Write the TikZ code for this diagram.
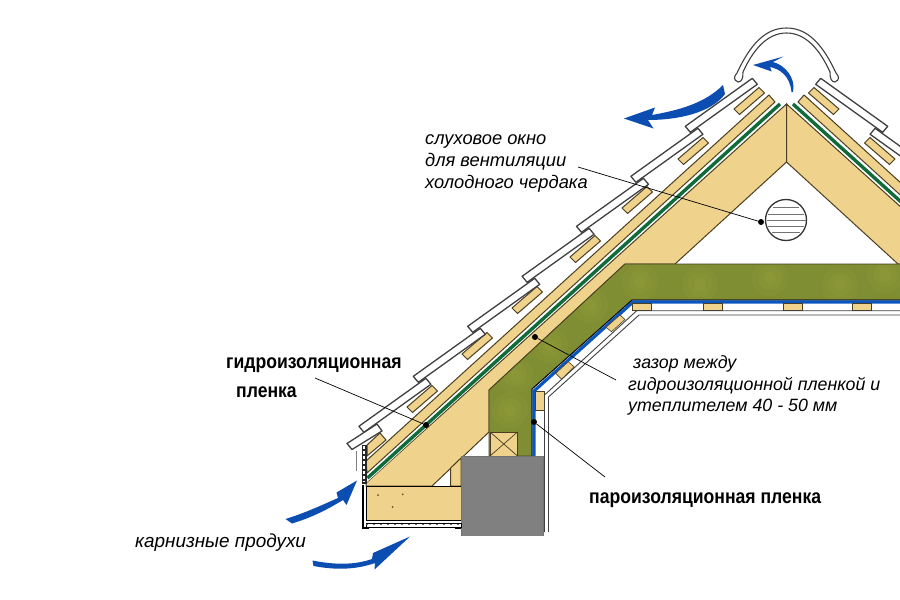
\documentclass[tikz,border=0pt]{standalone}
\usepackage{fontspec}
\setmainfont{Liberation Sans}
\newfontfamily\narrowfont[FakeStretch=0.88]{Liberation Sans}
\usetikzlibrary{positioning}
\definecolor{WOOD_COLOR}{HTML}{EFD28C}
\definecolor{WOOD_EDGE}{HTML}{4A3F22}
\definecolor{WOOL_COLOR}{HTML}{7F8E33}
\definecolor{FILM_COLOR}{HTML}{0F6B38}
\definecolor{VAPOR_COLOR}{HTML}{0A55BE}
\definecolor{ARROW_COLOR}{HTML}{0B4DB0}
\definecolor{BLOCK_COLOR}{HTML}{808080}
\tikzstyle{wood}=[fill=WOOD_COLOR, draw=WOOD_EDGE, line width=1pt]
\tikzstyle{batten}=[wood]
\tikzstyle{tile}=[fill=white, draw=black!75, line width=1.3pt, line join=round]
\tikzstyle{board}=[draw=black!75, line width=0.9pt]
\tikzstyle{flow}=[fill=ARROW_COLOR, draw=none]
\tikzstyle{leader}=[draw=black, line width=0.7pt]
\tikzstyle{spot}=[circle, fill=black, minimum size=6pt, inner sep=0pt]
\tikzstyle{note}=[inner sep=0pt, text height=12.5pt, text depth=3.5pt, anchor=west, font=\fontsize{18}{20}\selectfont\itshape]
\tikzstyle{head}=[inner sep=0pt, text height=12.5pt, text depth=3.5pt, anchor=west, font=\narrowfont\fontsize{20}{22}\selectfont\bfseries]
% one slope of the roof, drawn for the left side
\newcommand{\roofside}{
      \draw[wood] (786.5,104) -- (786.5,162) -- (675,264) -- (625,264) -- (489,390) -- (489,432) -- (432,486) -- (366,486) -- (366,483) -- cycle;
      \fill[white] (775,103) -- (784,102) -- (367,482) -- (367,473) -- cycle;
      \draw[wood] (769,95) -- (775,102) -- (367,473) -- (366,461) -- cycle;
      \draw[draw=FILM_COLOR, line width=3.4pt] (780,104) -- (367.5,478);
      \foreach \bx/\by in {734/109,678/159,622/208,570/257,512/308,462/354,407/407}
            \draw[batten] (\bx,\by) -- ++(25,-21.5) -- ++(5.5,5.5) -- ++(-25,21.5) -- cycle;
      \draw[batten] (367,445) -- (380,433) -- (386,440) -- (367,456) -- cycle;
      \foreach \i in {0,...,6}
            \draw[tile] ({752.3-54.4*\i},{78.3+50*\i}) -- ++(5,6) -- ++(-67,48) -- ++(-5,-6) -- cycle;
      \draw[tile] (377,424) -- (382,431) -- (352,449.5) -- (347,443.5) -- cycle;
}

\begin{document}
\begin{tikzpicture}[x=1pt, y=-1pt]
      \useasboundingbox (0,0) rectangle (900,600);
      \clip (0,0) rectangle (900,600);

      %%%%%%%%%%%%%%%%%%%%%%%%%%%%%%%%%%%%%%%%%%%%%%%%%
      % ROOF
      %%%%%%%%%%%%%%%%%%%%%%%%%%%%%%%%%%%%%%%%%%%%%%%%%
      \roofside
      \begin{scope}[xscale=-1, xshift=-1573pt]
            \roofside
      \end{scope}

      % ridge cap
      \draw[tile, line width=1.1pt] (738,82) .. controls (733,80) and (734,76) .. (737,73) .. controls (750,45) and (765,28) .. (786.5,28) .. controls (808,28) and (823,45) .. (836,73) .. controls (839,76) and (840,80) .. (835,82) .. controls (831,82) and (830,78) .. (830,72) .. controls (820,50) and (806,33) .. (786.5,33) .. controls (767,33) and (753,50) .. (743,72) .. controls (743,78) and (742,82) .. (738,82) -- cycle;

      % vent
      \draw[draw=black!80, line width=1.3pt, fill=white] (786,220) circle (20.5);
      \foreach \ly/\lw in {207/13,214/18,220/19.5,226/18,232/14}
            \draw[draw=black!55, line width=1pt] (786-\lw,\ly) -- (786+\lw,\ly);

      %%%%%%%%%%%%%%%%%%%%%%%%%%%%%%%%%%%%%%%%%%%%%%%%%
      % INSULATION
      %%%%%%%%%%%%%%%%%%%%%%%%%%%%%%%%%%%%%%%%%%%%%%%%%
      \draw[fill=WOOL_COLOR, draw=WOOD_EDGE, line width=0.8pt] (625,264) -- (905,264) -- (905,300) -- (632,300) -- (532,389) -- (532,456) -- (489,456) -- (489,390) -- cycle;
      \begin{scope}
            \clip (625,265) -- (900,265) -- (900,299) -- (632,299) -- (531,389) -- (531,455) -- (490,455) -- (490,390) -- cycle;
            \foreach \wx/\wy in {510/410,515/375,550/345,590/305,640/282,700/285,770/278,840/285,885/275}
                  \foreach \wr in {18,12,6}
                        \fill[yellow!65!white, opacity=0.035] (\wx,\wy) circle (\wr);
      \end{scope}

      % vapour film
      \draw[draw=black, line width=0.8pt] (900,300) -- (632,300) -- (532,389) -- (532,456);
      \draw[draw=VAPOR_COLOR, line width=3.2pt, line join=miter] (900,302) -- (633,302) -- (534,391) -- (534,456);

      %%%%%%%%%%%%%%%%%%%%%%%%%%%%%%%%%%%%%%%%%%%%%%%%%
      % CEILING BOARDS
      %%%%%%%%%%%%%%%%%%%%%%%%%%%%%%%%%%%%%%%%%%%%%%%%%
      \foreach \bx in {632,703,783,852}
            \draw[batten, line width=0.6pt] (\bx,303.5) rectangle ++(19.5,7);
      \draw[batten, line width=0.6pt] (606,327.3) -- (620,315) -- (625,319.5) -- (611.5,331.7) -- cycle;
      \draw[batten, line width=0.6pt] (555.7,373.3) -- (568.3,361.7) -- (574,366.7) -- (561.7,379.3) -- cycle;
      \draw[batten, line width=0.6pt] (535.7,391) rectangle (544,410.5);
      \draw[board] (900,310.7) -- (636.7,310.7) -- (544.5,395) -- (544.5,532);
      \draw[board] (900,315) -- (639,315) -- (548.5,397) -- (548.5,532);

      %%%%%%%%%%%%%%%%%%%%%%%%%%%%%%%%%%%%%%%%%%%%%%%%%
      % EAVE AND WALL
      %%%%%%%%%%%%%%%%%%%%%%%%%%%%%%%%%%%%%%%%%%%%%%%%%
      \draw[wood] (450.7,468) -- (461,458) -- (461,486) -- (450.7,486) -- cycle;
      \draw[wood] (490,432) rectangle (517.5,456);
      \draw[draw=WOOD_EDGE, line width=0.7pt] (490,432) -- (517.5,456) (490,456) -- (517.5,432);
      \draw[fill=WOOD_COLOR, draw=black, line width=1pt] (366,486.7) rectangle (461,520);
      \fill[BLOCK_COLOR] (461,456) rectangle (543,535.5);
      \draw[draw=black!55, line width=0.6pt] (461,535.5) -- (461,456) -- (543,456) -- (543,535.5);
      \foreach \px/\py in {378/495,402.7/494.3,392.7/507}
            \fill[WOOD_EDGE!80!orange] (\px,\py) circle (1);
      \draw[fill=white, draw=black, line width=0.8pt] (366,523) rectangle (461,527);
      \draw[draw=black!60, line width=1pt, dash pattern=on 2pt off 5pt] (366,524) -- (461,524);
      \draw[draw=black, line width=1.6pt] (362.7,485) -- (362.7,528) -- (369,528);
      \fill[black] (455,526.5) rectangle (461,529);
      \draw[fill=black!85, draw=black!85] (362.5,445) rectangle (366,483);
      \draw[draw=white, line width=2pt, dash pattern=on 3pt off 2pt] (364.2,446) -- (364.2,482);
      \draw[draw=black!50, line width=1pt] (356,451) -- (356,471);

      %%%%%%%%%%%%%%%%%%%%%%%%%%%%%%%%%%%%%%%%%%%%%%%%%
      % AIR FLOW
      %%%%%%%%%%%%%%%%%%%%%%%%%%%%%%%%%%%%%%%%%%%%%%%%%
      \fill[flow] (723,85) .. controls (705,103) and (680,110) .. (652,115) -- (655,107.5) -- (624,118.5) -- (653.5,128.5) -- (648,120) .. controls (680,120) and (712,112) .. (725,94) -- cycle;
      \fill[flow] (793,92) .. controls (796,78) and (785,65) .. (773,62) -- (783.5,56.5) -- (753,65) -- (771.7,71.5) -- (770,67) .. controls (780,69) and (790,76) .. (791.5,92) -- cycle;
      \fill[flow] (285.5,519) .. controls (305,513) and (322,505) .. (338,498) -- (336.5,492.5) -- (357,480.5) -- (346.5,505) -- (343,500) .. controls (325,511) and (310,518) .. (292,523.5) -- cycle;
      \fill[flow] (312.5,560.5) .. controls (335,565) and (355,565) .. (372,559) -- (373,553) -- (410,536.5) -- (374.5,569.5) -- (375,563) .. controls (355,570) and (335,570) .. (313.5,566) -- cycle;

      %%%%%%%%%%%%%%%%%%%%%%%%%%%%%%%%%%%%%%%%%%%%%%%%%
      % LABELS
      %%%%%%%%%%%%%%%%%%%%%%%%%%%%%%%%%%%%%%%%%%%%%%%%%
      \node[note, font=\fontsize{18.3}{20}\selectfont\itshape] (window1) at (425,139.5) {слуховое окно};
      \node[note, font=\fontsize{18.3}{20}\selectfont\itshape, below=6pt of window1.south west, anchor=north west] (window2) {для вентиляции};
      \node[note, font=\fontsize{18.3}{20}\selectfont\itshape, below=6pt of window2.south west, anchor=north west] (window3) {холодного чердака};

      \node[head] (film1) at (226,363.5) {гидроизоляционная};
      \node[head, below right=13pt and 10pt of film1.south west, anchor=north west] (film2) {пленка};

      \node[note, font=\fontsize{17.8}{20}\selectfont\itshape] (gap1) at (633,363.5) {зазор между};
      \node[note, font=\fontsize{17.8}{20}\selectfont\itshape] (gap2) at (628,385.5) {гидроизоляционной пленкой и};
      \node[note, font=\fontsize{17.8}{20}\selectfont\itshape, below=5pt of gap2.south west, anchor=north west] (gap3) {утеплителем 40 - 50 мм};

      \node[head] (vapor) at (589,498.5) {пароизоляционная пленка};
      \node[note, font=\fontsize{18.9}{20}\selectfont\itshape] (eaves) at (135,542.5) {карнизные продухи};

      % leaders
      \node[spot] (windowSpot) at (761,222) {};
      \node[spot] (filmSpot) at (426,425) {};
      \node[spot] (gapSpot) at (535,337) {};
      \node[spot] (vaporSpot) at (534,422) {};
      \coordinate (windowEnd) at (578,167);
      \coordinate (filmEnd) at (315,378);
      \coordinate (gapEnd) at (616,380);
      \coordinate (vaporEnd) at (605,477);
      \draw[leader] (windowEnd) -- (windowSpot);
      \draw[leader] (filmEnd) -- (filmSpot);
      \draw[leader] (gapEnd) -- (gapSpot);
      \draw[leader] (vaporEnd) -- (vaporSpot);
\end{tikzpicture}
\end{document}
